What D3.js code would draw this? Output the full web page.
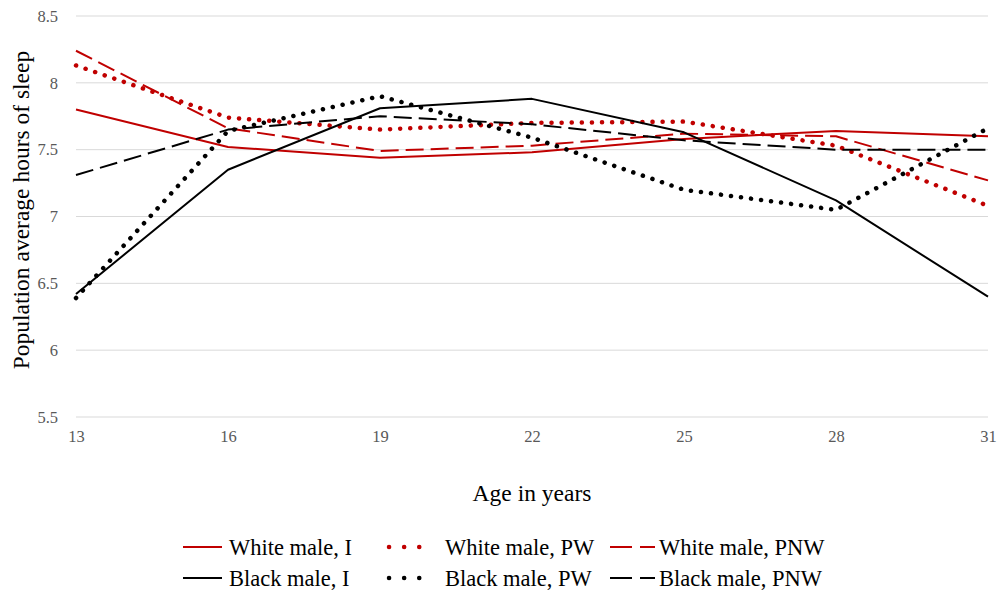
<!DOCTYPE html>
<html>
<head>
<meta charset="utf-8">
<script src="https://cdn.jsdelivr.net/npm/d3@7"></script>
<style>
  body { margin: 0; background: #fff; }
  text { font-family: "Liberation Serif", "Times New Roman", serif; }
</style>
</head>
<body>
<div id="chart"></div>
<script>
// ages on the x axis
const ages = [13, 16, 19, 22, 25, 28, 31];
const yTicks = [5.5, 6, 6.5, 7, 7.5, 8, 8.5];

// population average hours of sleep
const whiteI   = [7.80, 7.52, 7.44, 7.48, 7.58, 7.64, 7.60];
const whitePW  = [8.13, 7.74, 7.65, 7.70, 7.71, 7.53, 7.08];
const whitePNW = [8.24, 7.66, 7.49, 7.53, 7.62, 7.60, 7.27];
const blackI   = [6.42, 7.35, 7.81, 7.88, 7.63, 7.12, 6.40];
const blackPW  = [6.39, 7.64, 7.90, 7.59, 7.20, 7.05, 7.66];
const blackPNW = [7.31, 7.65, 7.75, 7.69, 7.57, 7.50, 7.50];

const seriesNames = ['White male, I', 'White male, PW', 'White male, PNW',
                     'Black male, I', 'Black male, PW', 'Black male, PNW'];
const seriesValues = [whiteI, whitePW, whitePNW, blackI, blackPW, blackPNW];

const RED = '#c00000', BLACK = '#000';
const styles = {
    solid:  { width: 2, dash: null, cap: 'butt' },
    dotted: { width: 4.5, dash: '0.1 10', cap: 'round' },
    dashed: { width: 2, dash: '18 7', cap: 'butt' }
};
const seriesStyle = [
    [RED, 'solid'], [RED, 'dotted'], [RED, 'dashed'],
    [BLACK, 'solid'], [BLACK, 'dotted'], [BLACK, 'dashed']
];

const width = 1000, height = 594;
const margin = {left: 76, right: 12, top: 16, bottom: 177};

const svg = d3.select('#chart').append('svg')
    .attr('width', width).attr('height', height);

const x = d3.scaleLinear().domain([13, 31]).range([margin.left, width - margin.right]);
const y = d3.scaleLinear().domain([5.5, 8.5]).range([height - margin.bottom, margin.top]);

// gridlines
svg.append('g')
    .selectAll('line')
    .data(yTicks)
  .join('line')
    .attr('x1', x(13)).attr('x2', x(31))
    .attr('y1', d => y(d)).attr('y2', d => y(d))
    .attr('stroke', '#d9d9d9').attr('stroke-width', 1);

// y axis labels
const yAxis = d3.axisLeft(y).tickValues(yTicks).tickSize(0).tickPadding(18)
    .tickFormat(d3.format('~g'));
svg.append('g')
    .attr('transform', `translate(${x(13)},0)`)
    .call(yAxis)
    .call(g => g.select('.domain').remove())
    .call(g => g.selectAll('text')
        .attr('fill', '#595959')
        .attr('font-size', 16.5)
        .attr('font-family', '"Liberation Serif", serif'));

// x axis labels
const xAxis = d3.axisBottom(x).tickValues(ages).tickSize(0).tickPadding(13);
svg.append('g')
    .attr('transform', `translate(0,${y(5.5)})`)
    .call(xAxis)
    .call(g => g.select('.domain').remove())
    .call(g => g.selectAll('text')
        .attr('fill', '#595959')
        .attr('font-size', 16.5)
        .attr('font-family', '"Liberation Serif", serif'));

// axis titles
svg.append('text')
    .attr('x', 532).attr('y', 501)
    .attr('text-anchor', 'middle')
    .attr('font-size', 23.5)
    .text('Age in years');

svg.append('text')
    .attr('transform', 'translate(29,210) rotate(-90)')
    .attr('text-anchor', 'middle')
    .attr('font-size', 23.5)
    .text('Population average hours of sleep');

// lines
const line = d3.line()
    .x((d, i) => x(ages[i]))
    .y(d => y(d));

svg.append('g')
    .selectAll('path')
    .data(seriesValues)
  .join('path')
    .attr('d', d => line(d))
    .attr('fill', 'none')
    .attr('stroke', (d, i) => seriesStyle[i][0])
    .attr('stroke-width', (d, i) => styles[seriesStyle[i][1]].width)
    .attr('stroke-dasharray', (d, i) => styles[seriesStyle[i][1]].dash)
    .attr('stroke-linecap', (d, i) => styles[seriesStyle[i][1]].cap)
    .attr('stroke-linejoin', 'round');

// legend
const colX = [183, 387, 610];
const rowY = [547, 578];
const legendSample = {
    solid:  { x1: 0, x2: 39, dash: null, width: 2, text: 46 },
    dotted: { x1: 2, x2: 47, dash: '0.1 15', width: 4.5, text: 58 },
    dashed: { x1: 0, x2: 45, dash: '22 8', width: 2, text: 49 }
};
const legend = svg.append('g')
    .selectAll('g')
    .data(seriesNames)
  .join('g')
    .attr('transform', (d, i) => `translate(${colX[i % 3]},${rowY[Math.floor(i / 3)]})`);

legend.append('line')
    .attr('x1', (d, i) => legendSample[seriesStyle[i][1]].x1)
    .attr('x2', (d, i) => legendSample[seriesStyle[i][1]].x2)
    .attr('stroke', (d, i) => seriesStyle[i][0])
    .attr('stroke-width', (d, i) => legendSample[seriesStyle[i][1]].width)
    .attr('stroke-dasharray', (d, i) => legendSample[seriesStyle[i][1]].dash)
    .attr('stroke-linecap', (d, i) => styles[seriesStyle[i][1]].cap);

legend.append('text')
    .attr('x', (d, i) => legendSample[seriesStyle[i][1]].text)
    .attr('y', 7.5)
    .attr('font-size', 22.5)
    .text(d => d);
</script>
</body>
</html>
